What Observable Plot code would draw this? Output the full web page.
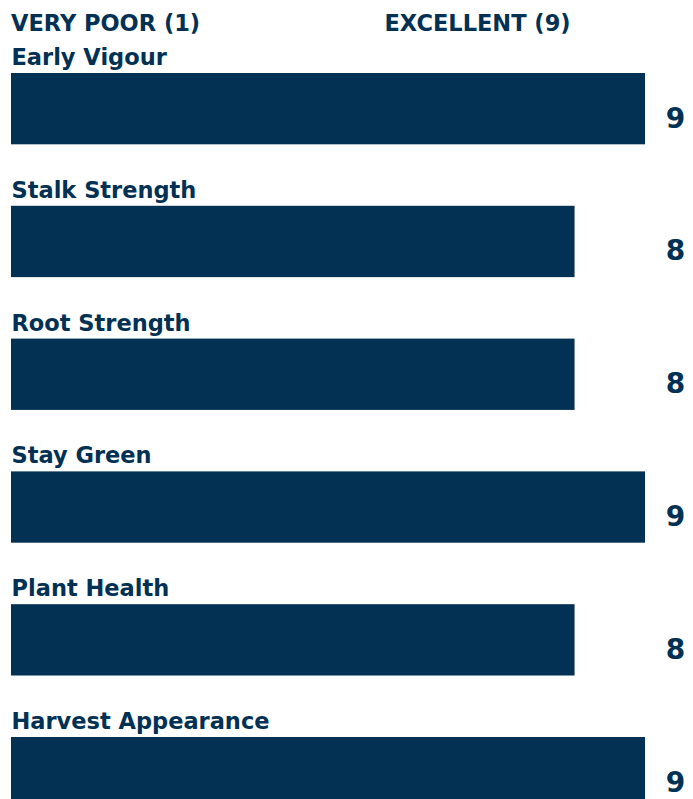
<!DOCTYPE html>
<html>
<head>
<meta charset="utf-8">
<script src="https://cdn.jsdelivr.net/npm/d3@7"></script>
<script src="https://cdn.jsdelivr.net/npm/@observablehq/plot@0.6"></script>
<style>
  html, body { margin: 0; padding: 0; background: #fff; overflow: hidden; }
  #hdr { position: relative; height: 40px; font-family: "DejaVu Sans", sans-serif; font-weight: bold; font-size: 22.5px; color: #023153; }
  #hdr span { position: absolute; top: 10px; white-space: nowrap; line-height: normal; }
</style>
</head>
<body>
<div id="hdr"><span id="lo" style="left:11px"></span><span id="hi" style="left:384.5px"></span></div>
<div id="chart"></div>
<script>
const scaleLabels = ["VERY POOR (1)", "EXCELLENT (9)"];
const categories = ["Early Vigour", "Stalk Strength", "Root Strength", "Stay Green", "Plant Health", "Harvest Appearance"];
const scores = [9, 8, 8, 9, 8, 9];
const navy = "#023153";

document.getElementById("lo").textContent = scaleLabels[0];
document.getElementById("hi").textContent = scaleLabels[1];

const data = categories.map((c, i) => ({category: c, score: scores[i]}));

const chart = Plot.plot({
  width: 693,
  height: 770,
  marginTop: 33,
  marginBottom: 1.7,
  marginLeft: 11,
  marginRight: 48,
  style: {fontFamily: "DejaVu Sans, sans-serif", background: "#fff", overflow: "visible"},
  x: {domain: [0, 9], axis: null},
  y: {domain: categories, axis: null, paddingInner: 0.463, paddingOuter: 0, round: false},
  marks: [
    Plot.barX(data, {x: "score", y: "category", fill: navy}),
    Plot.text(data, {
      y: "category", text: "category", frameAnchor: "left",
      textAnchor: "start", lineAnchor: "bottom", dy: -44.2,
      fontSize: 22.5, fontWeight: "bold", fill: navy
    }),
    Plot.text(data, {
      y: "category", text: d => String(d.score), frameAnchor: "right",
      textAnchor: "middle", lineAnchor: "middle", dx: 30, dy: 9.5,
      fontSize: 28, fontWeight: "bold", fill: navy
    })
  ]
});
document.getElementById("chart").appendChild(chart);
</script>
</body>
</html>
